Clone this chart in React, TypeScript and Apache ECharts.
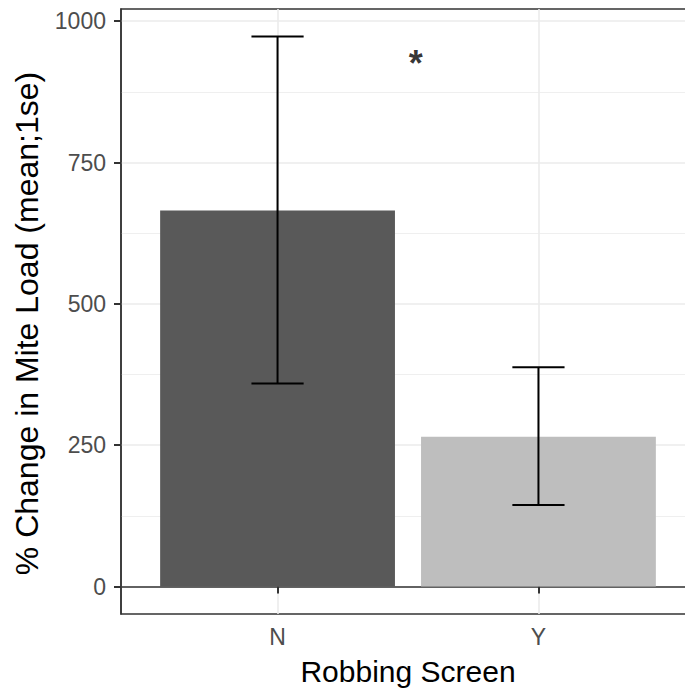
import React, { useEffect, useRef } from "react";
import * as echarts from "echarts";

const categories = ["N", "Y"];
const means = [665, 265];
const seLow = [359, 144];
const seHigh = [973, 388];
const barColors = ["#595959", "#bebebe"];
const yMajorTicks = [0, 250, 500, 750, 1000];
const yMinorTicks = [125, 375, 625, 875];
const annotation = { x: 1.53, y: 940, text: "*" };

export default function App() {
  const ref = useRef<HTMLDivElement>(null);
  useEffect(() => {
    if (!ref.current) return;
    const chart = echarts.init(ref.current, undefined, { renderer: "svg" });
    const dataMax = Math.max(...seHigh);
    const pad = dataMax * 0.05;
    const yMin = -pad;
    const yMax = dataMax + pad;
    const font = "Liberation Sans, Arial, sans-serif";
    const barData = categories.map((c, i) => ({ value: [i + 1, means[i]], itemStyle: { color: barColors[i] } }));
    const errData = categories.map((c, i) => [i + 1, seLow[i], seHigh[i]]);
    const gridLines = [
      ...yMinorTicks.map((v) => ({ yAxis: v, lineStyle: { width: 0.8 } })),
      ...yMajorTicks.map((v) => ({ yAxis: v, lineStyle: { width: 1.6 } })),
      ...categories.map((c, i) => ({ xAxis: i + 1, lineStyle: { width: 1.6 } })),
    ];
    chart.setOption({
      animation: false,
      grid: {
        left: 121,
        right: 0,
        top: 9,
        bottom: 77,
        show: true,
        backgroundColor: "#ffffff",
        borderColor: "#333333",
        borderWidth: 1.5,
      },
      xAxis: {
        type: "value",
        min: 0.4,
        max: 2.6,
        name: "Robbing Screen",
        nameLocation: "middle",
        nameGap: 42,
        nameTextStyle: { fontSize: 30, color: "#000", fontFamily: font },
        axisLine: { show: true, lineStyle: { color: "#333", width: 1.5 } },
        axisTick: { show: true, length: 7, lineStyle: { color: "#333", width: 2 }, customValues: [1, 2] },
        axisLabel: {
          customValues: [1, 2],
          formatter: (v: number) => categories[Math.round(v) - 1] ?? "",
          fontSize: 23,
          color: "#4d4d4d",
          fontFamily: font,
          margin: 11,
        },
        splitLine: { show: false },
      },
      yAxis: {
        type: "value",
        min: yMin,
        max: yMax,
        name: "% Change in Mite Load (mean;1se)",
        nameLocation: "middle",
        nameGap: 78,
        nameTextStyle: { fontSize: 32, color: "#000", fontFamily: font, padding: [0, 24, 0, 0] },
        axisLine: { show: true, lineStyle: { color: "#333", width: 1.5 } },
        axisTick: { show: true, length: 7, lineStyle: { color: "#333", width: 2 }, customValues: yMajorTicks },
        axisLabel: {
          customValues: yMajorTicks,
          formatter: (v: number) => String(v),
          fontSize: 23,
          color: "#4d4d4d",
          fontFamily: font,
          margin: 15,
        },
        splitLine: { show: false },
      },
      series: [
        {
          type: "line",
          data: [],
          z: 1,
          silent: true,
          markLine: {
            silent: true,
            z: 0,
            symbol: "none",
            label: { show: false },
            lineStyle: { color: "#ebebeb", type: "solid" },
            data: gridLines,
          },
        },
        {
          type: "custom",
          z: 2,
          data: barData,
          renderItem: (params: any, api: any) => {
            const x = api.value(0);
            const y = api.value(1);
            const p0 = api.coord([x - 0.45, 0]);
            const p1 = api.coord([x + 0.45, y]);
            return {
              type: "rect",
              shape: { x: p0[0], y: p1[1], width: p1[0] - p0[0], height: p0[1] - p1[1] },
              style: { fill: api.visual("color") },
            };
          },
        },
        {
          type: "custom",
          z: 3,
          data: errData,
          renderItem: (params: any, api: any) => {
            const x = api.value(0);
            const lo = api.value(1);
            const hi = api.value(2);
            const pLo = api.coord([x, lo]);
            const pHi = api.coord([x, hi]);
            const cl = api.coord([x - 0.1, lo]);
            const cr = api.coord([x + 0.1, lo]);
            const style = { stroke: "#000", lineWidth: 2 };
            return {
              type: "group",
              children: [
                { type: "line", shape: { x1: pLo[0], y1: pLo[1], x2: pHi[0], y2: pHi[1] }, style },
                { type: "line", shape: { x1: cl[0], y1: pLo[1], x2: cr[0], y2: pLo[1] }, style },
                { type: "line", shape: { x1: cl[0], y1: pHi[1], x2: cr[0], y2: pHi[1] }, style },
              ],
            };
          },
        },
        {
          type: "scatter",
          z: 4,
          silent: true,
          symbolSize: 0,
          data: [[annotation.x, annotation.y]],
          label: {
            show: true,
            position: "inside",
            formatter: annotation.text,
            fontSize: 36,
            fontWeight: "bold",
            color: "#000",
            fontFamily: font,
            offset: [0, 8],
          },
        },
      ],
    });
    return () => chart.dispose();
  }, []);
  return (
    <div style={{ position: "fixed", left: 0, top: 0, width: 685, height: 691, overflow: "hidden", background: "#fff" }}>
      <div ref={ref} style={{ width: 695, height: 691 }} />
    </div>
  );
}
